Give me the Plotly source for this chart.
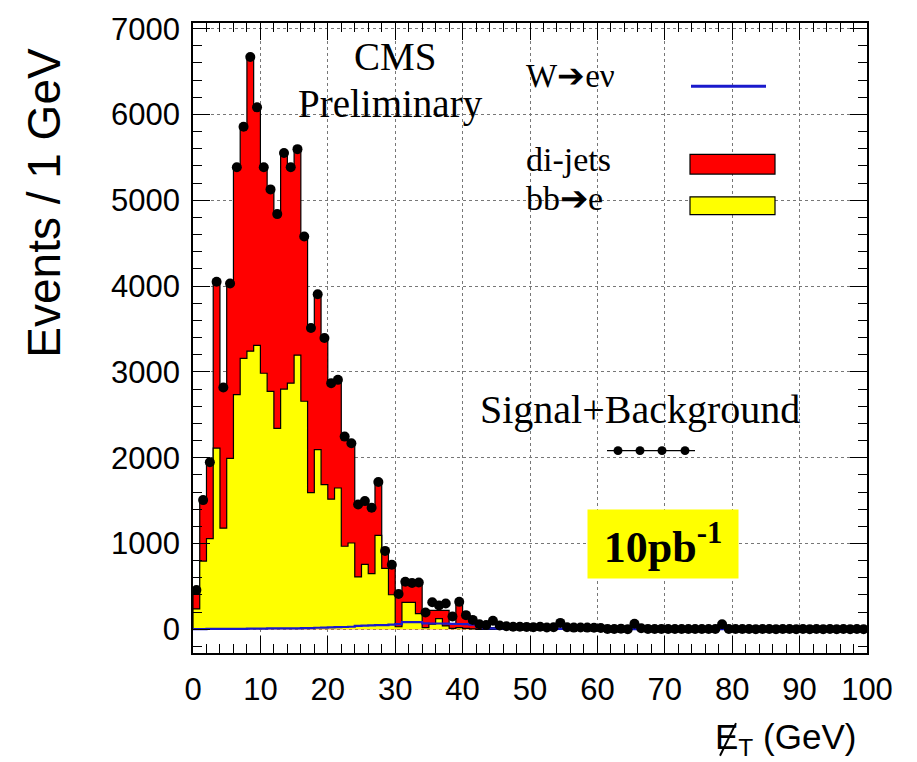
import plotly.graph_objects as go

# ---------------- data (1 GeV bins, 0..100 GeV) ----------------
bin_edges = list(range(0, 101))

bbe_vals = [238, 795, 1056, 2112, 1179, 1993, 2734, 3157, 3241, 3310,
            2984, 2773, 2342, 2800, 2869, 3195, 2658, 1593, 2093, 1686,
            1517, 1647, 968, 1006, 611, 757, 649, 1094, 711, 403,
            30, 315, 315, 184, 20, 60, 125, 40, 10, 20,
            10, 5, 0, 0, 0, 0, 0, 0, 0, 0,
            0, 0, 0, 0, 0, 0, 0, 0, 0, 0,
            0, 0, 0, 0, 0, 0, 0, 0, 0, 0,
            0, 0, 0, 0, 0, 0, 0, 0, 0, 0,
            0, 0, 0, 0, 0, 0, 0, 0, 0, 0,
            0, 0, 0, 0, 0, 0, 0, 0, 0, 0]

dijet_vals = [219, 711, 891, 1938, 1640, 2037, 2650, 2699, 3429, 2773,
              2400, 2354, 2497, 2750, 2515, 2401, 1919, 1919, 1812, 1709,
              1352, 1260, 1278, 1163, 844, 737, 768, 623, 203, 350,
              400, 240, 225, 361, 170, 160, 95, 180, 50, 280,
              140, 55, 30, 20, 20, 0, 0, 0, 0, 0,
              0, 0, 0, 0, 0, 0, 0, 0, 0, 0,
              0, 0, 0, 0, 0, 0, 0, 0, 0, 0,
              0, 0, 0, 0, 0, 0, 0, 0, 0, 0,
              0, 0, 0, 0, 0, 0, 0, 0, 0, 0,
              0, 0, 0, 0, 0, 0, 0, 0, 0, 0]

wenu_vals = [3, 3, 4, 4, 5, 5, 6, 6, 8, 8,
             9, 10, 10, 11, 12, 12, 13, 15, 18, 20,
             22, 25, 27, 30, 40, 42, 45, 48, 50, 55,
             60, 84, 84, 84, 70, 68, 68, 66, 64, 62,
             60, 55, 30, 15, 10, 8, 6, 5, 5, 5,
             4, 4, 4, 4, 5, 4, 3, 3, 3, 3,
             2, 2, 2, 2, 2, 2, 2, 2, 2, 1,
             1, 1, 1, 1, 1, 1, 1, 1, 1, 1,
             1, 1, 1, 1, 1, 1, 1, 1, 1, 1,
             1, 1, 1, 1, 1, 1, 1, 1, 1, 1]

data_vals = [457, 1506, 1947, 4050, 2819, 4030, 5384, 5856, 6670, 6083,
             5384, 5127, 4839, 5550, 5384, 5596, 4577, 3512, 3905, 3395,
             2869, 2907, 2246, 2169, 1455, 1494, 1417, 1717, 914, 753,
             411, 555, 540, 545, 195, 315, 278, 300, 150, 320,
             165, 110, 60, 50, 100, 45, 35, 30, 30, 28,
             25, 30, 22, 25, 75, 25, 20, 22, 20, 18,
             15, 5, 3, 8, 2, 65, 12, 5, 4, 5,
             4, 3, 4, 4, 3, 4, 3, 3, 60, 3,
             3, 4, 3, 2, 3, 3, 2, 3, 3, 2,
             3, 2, 3, 2, 3, 2, 3, 2, 3, 2]

x_ticks = [0, 10, 20, 30, 40, 50, 60, 70, 80, 90, 100]
y_ticks = [0, 1000, 2000, 3000, 4000, 5000, 6000, 7000]

# ---------------- helpers ----------------
stack_total = [a + b for a, b in zip(bbe_vals, dijet_vals)]
centers = [e + 0.5 for e in bin_edges[:-1]]


def step_xy(vals):
    xs = [bin_edges[0]] + bin_edges[:-1] + [bin_edges[-1], bin_edges[-1]]
    ys = [0] + list(vals) + [vals[-1], 0]
    return xs, ys


L, R, T, B = 193, 50, 15, 109
W, H = 917, 762
PW, PH = W - L - R, H - T - B


def px(xp):
    return (xp - L) / PW


def py(yp):
    return (H - B - yp) / PH


fig = go.Figure()

xs, ys = step_xy(stack_total)
fig.add_trace(go.Scatter(x=xs, y=ys, mode="lines", line=dict(shape="hv", color="black", width=1.2),
                         fill="tozeroy", fillcolor="#ff0000", name="di-jets", showlegend=False))
xs, ys = step_xy(bbe_vals)
fig.add_trace(go.Scatter(x=xs, y=ys, mode="lines", line=dict(shape="hv", color="black", width=1.2),
                         fill="tozeroy", fillcolor="#ffff00", name="bb→e", showlegend=False))
xs, ys = step_xy(wenu_vals)
fig.add_trace(go.Scatter(x=xs[1:-1], y=ys[1:-1], mode="lines", line=dict(shape="hv", color="#1a1acc", width=2.2),
                         name="W→eν", showlegend=False))
fig.add_trace(go.Scatter(x=centers, y=data_vals, mode="markers",
                         marker=dict(color="black", size=10, symbol="circle"),
                         error_x=dict(type="constant", value=0.5, width=0, thickness=1.2, color="black"),
                         name="Signal+Background", showlegend=False))

axis_common = dict(showline=True, linecolor="black", linewidth=1.5, mirror="allticks",
                   ticks="inside", ticklen=17, tickwidth=1.2, tickcolor="black",
                   showgrid=True, gridcolor="#777777", griddash="dot", gridwidth=1,
                   zeroline=False,
                   tickfont=dict(family="Liberation Sans, Arial, sans-serif", size=31, color="black"))

fig.update_xaxes(range=[0, 100], tickvals=x_ticks, ticktext=[str(v) for v in x_ticks],
                 minor=dict(dtick=2, ticks="inside", ticklen=9, tickcolor="black", showgrid=False),
                 ticklabelstandoff=8, **axis_common)
fig.update_yaxes(range=[-276, 7066], tickvals=y_ticks, ticktext=[str(v) for v in y_ticks],
                 minor=dict(dtick=200, ticks="inside", ticklen=9, tickcolor="black", showgrid=False),
                 ticklabelstandoff=5, **axis_common)

serif = "Liberation Serif, Times New Roman, serif"
sans = "Liberation Sans, Arial, sans-serif"


def note(text, x, y, size, family=serif, xa="center", ya="middle", **kw):
    return dict(text=text, x=px(x), y=py(y), xref="paper", yref="paper", xanchor=xa, yanchor=ya,
                showarrow=False, font=dict(family=family, size=size, color="black"), **kw)


ann = [
    note("Events / 1 GeV", 44, 197, 46, family=sans, textangle=-90),
    note("E<sub>T</sub> (GeV)", 713, 740, 35, family=sans, xa="left"),
    note("CMS", 395, 49, 39),
    note("Preliminary", 390, 97, 39),
    note("W➔eν", 524, 69, 33, xa="left"),
    note("di-jets", 524, 153, 34, xa="left"),
    note("bb➔e", 524, 193, 34, xa="left"),
    note("Signal+Background", 640, 406, 40),
    note("<b>10pb<sup>-1</sup></b>", 663, 543, 44, width=148, height=66, bgcolor="#ffff00",
         align="center", valign="middle"),
]

shapes = []
# slash through the E of the missing-ET symbol
shapes.append(dict(type="line", xref="paper", yref="paper", x0=px(720), x1=px(736), y0=py(757), y1=py(724),
                   line=dict(color="black", width=2)))
shapes.append(dict(type="line", xref="paper", yref="paper", x0=px(691), x1=px(766), y0=py(79), y1=py(79),
                   line=dict(color="#1a1acc", width=3)))
shapes.append(dict(type="rect", xref="paper", yref="paper", x0=px(690), x1=px(775), y0=py(168), y1=py(148),
                   fillcolor="#ff0000", line=dict(color="black", width=1.2)))
shapes.append(dict(type="rect", xref="paper", yref="paper", x0=px(690), x1=px(775), y0=py(209), y1=py(191),
                   fillcolor="#ffff00", line=dict(color="black", width=1.2)))
shapes.append(dict(type="line", xref="paper", yref="paper", x0=px(607), x1=px(695), y0=py(448), y1=py(448),
                   line=dict(color="black", width=1.2)))
for cx in [618, 640, 662, 685]:
    shapes.append(dict(type="circle", xref="paper", yref="paper", x0=px(cx - 4.5), x1=px(cx + 4.5),
                       y0=py(448 + 4.5), y1=py(448 - 4.5), fillcolor="black", line=dict(color="black", width=0)))

fig.update_layout(width=W, height=H, margin=dict(l=L, r=R, t=T, b=B, pad=0),
                  paper_bgcolor="white", plot_bgcolor="white",
                  annotations=ann, shapes=shapes, showlegend=False)

fig.write_html("out.html", config={"displayModeBar": False},
               post_script="document.body.style.margin='0px';document.body.style.overflow='hidden';")
